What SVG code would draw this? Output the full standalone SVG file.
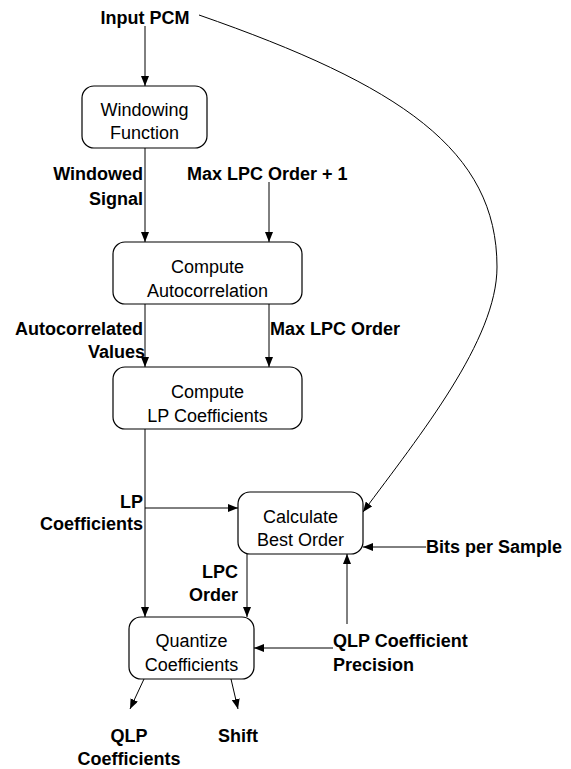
<svg xmlns="http://www.w3.org/2000/svg" width="571" height="769" viewBox="0 0 571 769">
  <style>
    .box { fill: #fff; stroke: #000; stroke-width: 1.2; }
    .node { font-family: "Liberation Sans", Arial, sans-serif; font-size: 18px; fill: #000; text-anchor: middle; }
    .lbl { font-family: "Liberation Sans", Arial, sans-serif; font-size: 18px; font-weight: bold; fill: #000; }
    .wire { fill: none; stroke: #000; stroke-width: 1; }
  </style>
  <defs>
    <marker id="arr" viewBox="0 0 10 8" refX="10" refY="4" markerWidth="10" markerHeight="8" markerUnits="userSpaceOnUse" orient="auto">
      <path d="M0,0 L10,4 L0,8 Z" fill="#000"/>
    </marker>
  </defs>

  <rect width="571" height="769" fill="#fff"/>

  <!-- connectors -->
  <g id="connectors">
    <line class="wire" x1="145" y1="26" x2="145" y2="86" marker-end="url(#arr)"/>
    <line class="wire" x1="145" y1="148" x2="145" y2="242" marker-end="url(#arr)"/>
    <line class="wire" x1="269" y1="182" x2="269" y2="242" marker-end="url(#arr)"/>
    <line class="wire" x1="145" y1="304" x2="145" y2="367" marker-end="url(#arr)"/>
    <line class="wire" x1="269" y1="304" x2="269" y2="367" marker-end="url(#arr)"/>
    <line class="wire" x1="145" y1="429" x2="145" y2="617" marker-end="url(#arr)"/>
    <line class="wire" x1="145" y1="508" x2="238" y2="508" marker-end="url(#arr)"/>
    <line class="wire" x1="247" y1="554" x2="247" y2="617" marker-end="url(#arr)"/>
    <line class="wire" x1="426" y1="547" x2="363" y2="547" marker-end="url(#arr)"/>
    <line class="wire" x1="333" y1="648" x2="254" y2="648" marker-end="url(#arr)"/>
    <line class="wire" x1="347" y1="624" x2="347" y2="554" marker-end="url(#arr)"/>
    <line class="wire" x1="144" y1="679" x2="130" y2="709" marker-end="url(#arr)"/>
    <line class="wire" x1="231" y1="679" x2="238" y2="709" marker-end="url(#arr)"/>
    <!-- PCM input routed around to the order estimator -->
    <path class="wire" d="M199,15 C400,85 497,150 497,267 C497,340 420,435 363,512" marker-end="url(#arr)"/>
  </g>

  <!-- process nodes -->
  <g id="windowing">
    <rect class="box" x="82" y="86" width="125" height="62" rx="12"/>
    <text class="node" x="144.5" y="116">Windowing</text>
    <text class="node" x="144.5" y="139">Function</text>
  </g>
  <g id="autocorrelation">
    <rect class="box" x="113" y="242" width="189" height="62" rx="12"/>
    <text class="node" x="207.5" y="273">Compute</text>
    <text class="node" x="207.5" y="297">Autocorrelation</text>
  </g>
  <g id="lp-coefficients">
    <rect class="box" x="113" y="367" width="189" height="62" rx="12"/>
    <text class="node" x="207.5" y="398">Compute</text>
    <text class="node" x="207.5" y="422">LP Coefficients</text>
  </g>
  <g id="best-order">
    <rect class="box" x="238" y="492" width="125" height="62" rx="12"/>
    <text class="node" x="300.5" y="523">Calculate</text>
    <text class="node" x="300.5" y="546">Best Order</text>
  </g>
  <g id="quantize">
    <rect class="box" x="129" y="617" width="125" height="62" rx="12"/>
    <text class="node" x="191.5" y="647">Quantize</text>
    <text class="node" x="191.5" y="671">Coefficients</text>
  </g>

  <!-- data labels -->
  <g id="labels">
    <text class="lbl" x="145" y="24" text-anchor="middle">Input PCM</text>
    <text class="lbl" x="143" y="180" text-anchor="end">Windowed</text>
    <text class="lbl" x="143" y="205" text-anchor="end">Signal</text>
    <text class="lbl" x="187" y="180">Max LPC Order + 1</text>
    <text class="lbl" x="143" y="335" text-anchor="end">Autocorrelated</text>
    <text class="lbl" x="145" y="358" text-anchor="end">Values</text>
    <text class="lbl" x="270" y="335">Max LPC Order</text>
    <text class="lbl" x="143" y="508" text-anchor="end">LP</text>
    <text class="lbl" x="143" y="530" text-anchor="end">Coefficients</text>
    <text class="lbl" x="238" y="578" text-anchor="end">LPC</text>
    <text class="lbl" x="238" y="601" text-anchor="end">Order</text>
    <text class="lbl" x="426" y="553">Bits per Sample</text>
    <text class="lbl" x="333" y="647">QLP Coefficient</text>
    <text class="lbl" x="333" y="671">Precision</text>
    <text class="lbl" x="129" y="742" text-anchor="middle">QLP</text>
    <text class="lbl" x="129" y="765" text-anchor="middle">Coefficients</text>
    <text class="lbl" x="238" y="742" text-anchor="middle">Shift</text>
  </g>
</svg>
